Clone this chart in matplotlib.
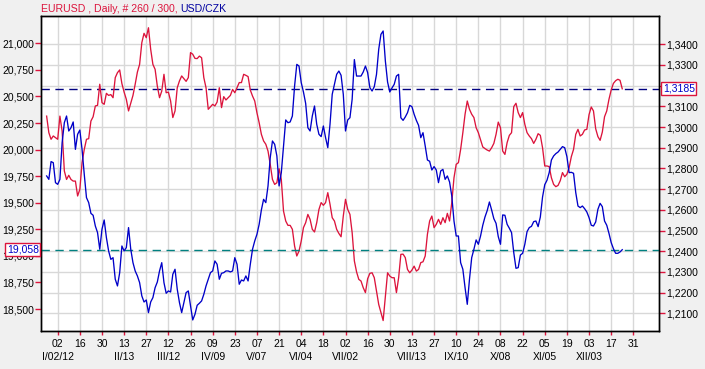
import numpy as np
import pandas as pd
import matplotlib
matplotlib.use('Agg')
import matplotlib.pyplot as plt
from matplotlib.ticker import FuncFormatter
import matplotlib.transforms as mtrans

plt.rcParams['font.family'] = ['Liberation Sans', 'DejaVu Sans']

# daily closes, 26.12.2011 .. 24.12.2012 (business days)
usdczk = [
    19.752, 19.720, 19.887, 19.877, 19.689, 19.673, 19.720, 20.065, 20.253, 20.316,
    20.175, 20.206, 20.260, 20.002, 20.144, 20.184, 20.002, 19.767, 19.548, 19.501,
    19.400, 19.382, 19.281, 19.219, 19.062, 19.250, 19.338, 19.172, 19.046, 18.967,
    18.983, 18.780, 18.717, 18.842, 19.093, 19.046, 19.078, 19.266, 19.062, 18.936,
    18.858, 18.811, 18.748, 18.623, 18.566, 18.585, 18.466, 18.566, 18.607, 18.701,
    18.754, 18.858, 18.936, 18.748, 18.648, 18.670, 18.660, 18.827, 18.874, 18.686,
    18.560, 18.466, 18.560, 18.654, 18.670, 18.529, 18.397, 18.450, 18.535, 18.554,
    18.576, 18.638, 18.717, 18.780, 18.842, 18.858, 18.952, 18.921, 18.780, 18.836,
    18.842, 18.858, 18.858, 18.849, 18.858, 18.983, 18.921, 18.733, 18.773, 18.764,
    18.811, 18.764, 18.921, 19.062, 19.140, 19.203, 19.297, 19.432, 19.532, 19.501,
    19.658, 19.924, 20.081, 20.050, 19.940, 19.658, 19.783, 20.034, 20.279, 20.253,
    20.260, 20.316, 20.598, 20.802, 20.786, 20.630, 20.542, 20.435, 20.206, 20.175,
    20.316, 20.410, 20.238, 20.144, 20.122, 20.222, 20.112, 20.018, 20.238, 20.520,
    20.614, 20.708, 20.739, 20.699, 20.520, 20.175, 20.279, 20.300, 20.473, 20.847,
    20.692, 20.692, 20.692, 20.730, 20.786, 20.724, 20.583, 20.551, 20.592, 20.708,
    20.943, 21.084, 21.116, 20.834, 20.636, 20.542, 20.580, 20.614, 20.692, 20.708,
    20.300, 20.275, 20.307, 20.347, 20.416, 20.404, 20.332, 20.275, 20.228, 20.112,
    20.159, 20.034, 19.902, 19.890, 19.808, 19.840, 19.808, 19.689, 19.799, 19.814,
    19.720, 19.752, 19.695, 19.564, 19.328, 19.187, 19.187, 18.936, 18.874, 18.701,
    18.544, 18.780, 18.983, 19.062, 19.150, 19.109, 19.187, 19.288, 19.366, 19.426,
    19.507, 19.432, 19.350, 19.306, 19.181, 19.109, 19.385, 19.382, 19.297, 19.260,
    19.219, 19.030, 18.883, 18.889, 19.008, 19.024, 19.109, 19.228, 19.266, 19.278,
    19.322, 19.328, 19.275, 19.366, 19.554, 19.670, 19.711, 19.783, 19.902, 19.940,
    19.962, 19.977, 20.002, 20.028, 20.018, 19.934, 19.783, 19.786, 19.777, 19.595,
    19.469, 19.454, 19.469, 19.444, 19.413, 19.360, 19.288, 19.281, 19.319, 19.438,
    19.494, 19.463, 19.328, 19.288, 19.212, 19.125, 19.068, 19.024, 19.024, 19.037,
    19.058,
]

eurusd = [
    1.3053, 1.2973, 1.2941, 1.2957, 1.2949, 1.2941, 1.3053, 1.2981, 1.2788, 1.2747,
    1.2767, 1.2747, 1.2739, 1.2739, 1.2667, 1.2699, 1.2828, 1.2892, 1.2941, 1.2944,
    1.3029, 1.3050, 1.3102, 1.3105, 1.3207, 1.3118, 1.3110, 1.3163, 1.3153, 1.3157,
    1.3142, 1.3239, 1.3263, 1.3276, 1.3210, 1.3169, 1.3134, 1.3078, 1.3115, 1.3153,
    1.3207, 1.3266, 1.3303, 1.3408, 1.3453, 1.3432, 1.3480, 1.3376, 1.3303, 1.3279,
    1.3198, 1.3142, 1.3174, 1.3255, 1.3166, 1.3169, 1.3126, 1.3046, 1.3078, 1.3190,
    1.3223, 1.3247, 1.3234, 1.3221, 1.3239, 1.3360, 1.3352, 1.3332, 1.3331, 1.3343,
    1.3335, 1.3239, 1.3190, 1.3086, 1.3098, 1.3110, 1.3102, 1.3121, 1.3190, 1.3094,
    1.3147, 1.3131, 1.3142, 1.3153, 1.3182, 1.3166, 1.3190, 1.3215, 1.3215, 1.3255,
    1.3250, 1.3244, 1.3179, 1.3150, 1.3126, 1.3069, 1.3021, 1.2965, 1.2933, 1.2917,
    1.2884, 1.2820, 1.2747, 1.2723, 1.2731, 1.2799, 1.2747, 1.2594, 1.2546, 1.2525,
    1.2525, 1.2506, 1.2425, 1.2377, 1.2401, 1.2449, 1.2514, 1.2538, 1.2578, 1.2554,
    1.2506, 1.2493, 1.2538, 1.2602, 1.2635, 1.2622, 1.2635, 1.2683, 1.2627, 1.2562,
    1.2546, 1.2506, 1.2486, 1.2470, 1.2570, 1.2651, 1.2602, 1.2578, 1.2490, 1.2353,
    1.2300, 1.2264, 1.2256, 1.2224, 1.2200, 1.2267, 1.2293, 1.2296, 1.2272, 1.2208,
    1.2143, 1.2103, 1.2065, 1.2183, 1.2296, 1.2280, 1.2272, 1.2272, 1.2200, 1.2272,
    1.2385, 1.2386, 1.2369, 1.2312, 1.2296, 1.2309, 1.2328, 1.2304, 1.2312, 1.2345,
    1.2349, 1.2377, 1.2482, 1.2546, 1.2570, 1.2514, 1.2530, 1.2554, 1.2530, 1.2562,
    1.2538, 1.2583, 1.2546, 1.2635, 1.2755, 1.2820, 1.2828, 1.2892, 1.2973, 1.3062,
    1.3126, 1.3086, 1.3062, 1.3046, 1.2997, 1.2973, 1.2938, 1.2904, 1.2896, 1.2889,
    1.2884, 1.2900, 1.2921, 1.2965, 1.3024, 1.2997, 1.2884, 1.2868, 1.2925, 1.2960,
    1.2973, 1.3099, 1.3115, 1.3070, 1.3046, 1.3070, 1.3013, 1.2973, 1.2957, 1.2944,
    1.2921, 1.2941, 1.2968, 1.2960, 1.2900, 1.2812, 1.2812, 1.2809, 1.2755, 1.2723,
    1.2712, 1.2718, 1.2741, 1.2780, 1.2760, 1.2772, 1.2804, 1.2857, 1.2892, 1.2965,
    1.2989, 1.2957, 1.2965, 1.2986, 1.2989, 1.3060, 1.3097, 1.3078, 1.2992, 1.2954,
    1.2936, 1.2976, 1.3050, 1.3078, 1.3134, 1.3179, 1.3211, 1.3224, 1.3231, 1.3226,
    1.3185,
]

roman = ['I', 'II', 'III', 'IV', 'V', 'VI', 'VII', 'VIII', 'IX', 'X', 'XI', 'XII']
title_red = 'EURUSD , Daily, # 260 / 300, '
title_blue = 'USD/CZK'

RED = '#DC143C'
BLUE = '#0000C8'

dates = pd.bdate_range('2011-12-26', periods=len(usdczk) + 5)
x = np.arange(len(usdczk))

fig = plt.figure(figsize=(7.05, 3.69), dpi=100, facecolor='#F0F0F0')
ax2 = fig.add_axes([41/705, 1-331/369, 618/705, 315/369])
ax = ax2.twinx()
ax.set_zorder(ax2.get_zorder() + 1)
ax.patch.set_visible(False)
ax2.set_facecolor('white')

# right axis: EURUSD, red
ax2.plot(x, eurusd, color=RED, lw=0.95, zorder=3)
ax2.axhline(eurusd[-1], color='#000080', lw=1, ls=(0, (6, 4)), zorder=2)
ax2.set_ylim(1.20145, 1.35368)
rticks = np.arange(1.21, 1.3401, 0.01)
ax2.set_yticks(rticks)
ax2.yaxis.tick_right()


def rfmt(v, p):
    # the last-value box sits on top of this one
    if abs(v - eurusd[-1]) < 0.002:
        return ''
    return ('%.4f' % v).replace('.', ',')


ax2.yaxis.set_major_formatter(FuncFormatter(rfmt))

# left axis: USD/CZK, blue
ax.plot(x, usdczk, color=BLUE, lw=0.95, zorder=3)
ax.axhline(usdczk[-1], color='#008080', lw=1, ls=(0, (6, 4)), zorder=2)
ax.set_ylim(18.293, 21.257)
ax.set_yticks(np.arange(18.5, 21.001, 0.25))
ax.yaxis.tick_left()
ax.yaxis.set_major_formatter(FuncFormatter(lambda v, p: ('%.3f' % v).replace('.', ',')))

xt = np.arange(5, len(dates), 10)
ax2.set_xlim(-2.54, 276.6)
ax.set_xlim(-2.54, 276.6)
ax2.set_xticks(xt)
ax2.set_xticklabels([dates[i].strftime('%d') for i in xt])
ax.set_xticks(xt)
ax.tick_params(axis='x', bottom=False, labelbottom=False)

ax2.grid(True, color='#D8D8D8', lw=1, zorder=0)
ax2.set_axisbelow(True)

for a in (ax, ax2):
    a.tick_params(axis='y', colors=RED, labelcolor='black', length=4, width=1, labelsize=7.5, pad=1)
    for s in a.spines.values():
        s.set_color('black')
        s.set_linewidth(1)
ax2.tick_params(axis='x', colors=RED, labelcolor='black', length=3, width=1, labelsize=7.5, pad=3)

# month row
seen = set()
first = True
for i in xt:
    d = dates[i]
    if d.month in seen:
        continue
    seen.add(d.month)
    lab = roman[d.month - 1] + '/' + d.strftime('%d')
    if first:
        lab += d.strftime('/%y')
        first = False
    ax2.annotate(lab, xy=(i, 0), xycoords=('data', 'axes fraction'),
                 xytext=(0, -26), textcoords='offset pixels',
                 ha='center', va='center', fontsize=7.5, annotation_clip=False)

# last value boxes
box = dict(boxstyle='square,pad=0.15', fc='white', ec=RED, lw=1)
lt = mtrans.blended_transform_factory(ax.transAxes, ax.transData)
ax.text(-0.0035, usdczk[-1], ('%.3f' % usdczk[-1]).replace('.', ','), transform=lt,
        ha='right', va='center', color=BLUE, fontsize=7.5, bbox=box, zorder=10, clip_on=False)
rt = mtrans.blended_transform_factory(ax2.transAxes, ax2.transData)
ax2.text(1.006, eurusd[-1], ('%.4f' % eurusd[-1]).replace('.', ','), transform=rt,
         ha='left', va='center', color=BLUE, fontsize=7.5, bbox=box, zorder=10, clip_on=False)

# title
t1 = fig.text(41/705, 1-12/369, title_red, color=RED, fontsize=7.6, va='baseline', ha='left')
fig.canvas.draw()
bb = t1.get_window_extent()
fig.text(bb.x1/fig.bbox.width, 1-12/369, title_blue, color='#0000A0', fontsize=7.6, va='baseline', ha='left')

fig.savefig('out.png', dpi=100, facecolor=fig.get_facecolor())
